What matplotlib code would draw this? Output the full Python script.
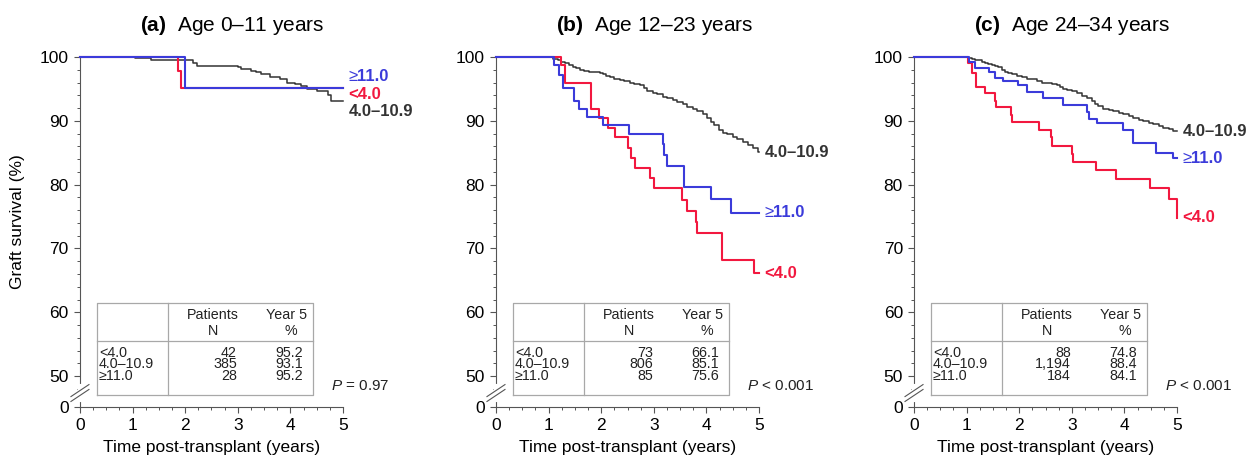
import numpy as np
import matplotlib.pyplot as plt
from matplotlib.ticker import FixedLocator, MultipleLocator

plt.rcParams["font.family"] = ["Liberation Sans", "DejaVu Sans"]
plt.rcParams["mathtext.fontset"] = "custom"
plt.rcParams["mathtext.rm"] = "Liberation Sans"
plt.rcParams["mathtext.it"] = "Liberation Sans:italic"
plt.rcParams["mathtext.bf"] = "Liberation Sans:bold"

groups = ["<4.0", "4.0–10.9", "≥11.0"]
titles = ["(a)", "(b)", "(c)"]
age_bands = ["Age 0–11 years", "Age 12–23 years", "Age 24–34 years"]
p_values = ["= 0.97", "< 0.001", "< 0.001"]

# panel (a), age 0-11
a_lo_t = [0, 1.87, 1.93, 5.0]
a_lo_s = [100, 97.8, 95.2, 95.2]
a_mid_t = [0, 1.05, 1.36, 2.15, 2.22, 3.01, 3.07, 3.26, 3.35, 3.45, 3.61, 3.80,
           3.93, 4.09, 4.21, 4.31, 4.50, 4.72, 4.77, 5.0]
a_mid_s = [100, 99.8, 99.5, 99.0, 98.6, 98.4, 98.1, 97.8, 97.6, 97.3, 96.9, 96.6,
           96.0, 95.8, 95.5, 95.0, 94.6, 94.0, 93.1, 93.1]
a_hi_t = [0, 2.0, 5.0]
a_hi_s = [100, 95.2, 95.2]
a_n = [42, 385, 28]
a_year5 = [95.2, 93.1, 95.2]

# panel (b), age 12-23
b_lo_t = [0, 1.24, 1.31, 1.81, 1.95, 2.12, 2.27, 2.50, 2.57, 2.64, 2.93, 3.00,
          3.53, 3.63, 3.80, 3.83, 4.29, 4.91, 5.0]
b_lo_s = [100, 98.8, 95.9, 91.8, 90.5, 88.9, 87.4, 85.8, 84.2, 82.6, 81.1, 79.4,
          77.6, 75.8, 74.2, 72.4, 68.2, 66.1, 66.1]
b_mid_t = [0, 1.08, 1.17, 1.24, 1.31, 1.39, 1.46, 1.52, 1.60, 1.68, 1.77, 1.87,
           1.97, 2.03, 2.09, 2.16, 2.25, 2.35, 2.44, 2.54, 2.63, 2.73, 2.81,
           2.88, 2.98, 3.07, 3.17, 3.26, 3.36, 3.45, 3.55, 3.64, 3.74, 3.83,
           3.93, 4.01, 4.09, 4.15, 4.23, 4.31, 4.40, 4.50, 4.59, 4.69, 4.79,
           4.88, 4.98, 5.0]
b_mid_s = [100, 99.7, 99.5, 99.2, 99.1, 98.8, 98.5, 98.3, 98.0, 97.8, 97.7, 97.6,
           97.5, 97.3, 97.0, 96.8, 96.6, 96.4, 96.2, 96.0, 95.7, 95.6, 95.2,
           94.6, 94.4, 94.2, 93.8, 93.6, 93.3, 93.0, 92.6, 92.1, 91.8, 91.5,
           91.1, 90.5, 89.8, 89.3, 88.5, 88.1, 87.9, 87.4, 87.1, 86.7, 86.2,
           85.7, 85.1, 85.1]
b_hi_t = [0, 1.11, 1.20, 1.27, 1.48, 1.58, 1.73, 2.03, 2.53, 3.17, 3.19, 3.26,
          3.58, 4.08, 4.47, 5.0]
b_hi_s = [100, 98.8, 97.2, 95.2, 93.1, 91.8, 90.6, 89.3, 88.0, 86.4, 84.7, 83.0,
          79.7, 77.7, 75.6, 75.6]
b_n = [73, 806, 85]
b_year5 = [66.1, 85.1, 75.6]

# panel (c), age 24-34
c_lo_t = [0, 1.03, 1.11, 1.18, 1.34, 1.53, 1.55, 1.84, 1.87, 2.38, 2.60, 2.63,
          3.01, 3.03, 3.45, 3.84, 4.49, 4.85, 4.99, 5.0]
c_lo_s = [100, 99.0, 97.5, 95.3, 94.3, 93.1, 92.1, 90.9, 89.8, 88.6, 87.4, 86.1,
          84.8, 83.6, 82.3, 80.9, 79.4, 77.8, 74.8, 74.8]
c_mid_t = [0, 1.03, 1.10, 1.16, 1.22, 1.29, 1.35, 1.41, 1.48, 1.54, 1.60, 1.67,
           1.73, 1.79, 1.86, 1.95, 2.05, 2.14, 2.24, 2.33, 2.43, 2.52, 2.62,
           2.72, 2.78, 2.84, 2.90, 3.00, 3.09, 3.19, 3.28, 3.38, 3.44, 3.50,
           3.60, 3.70, 3.79, 3.89, 3.98, 4.08, 4.17, 4.27, 4.36, 4.46, 4.55,
           4.65, 4.74, 4.84, 4.93, 5.0]
c_mid_s = [100, 99.9, 99.7, 99.6, 99.5, 99.2, 99.1, 98.9, 98.7, 98.6, 98.4, 98.0,
           97.7, 97.5, 97.3, 97.0, 96.9, 96.6, 96.5, 96.2, 96.0, 95.9, 95.8,
           95.6, 95.3, 95.0, 94.9, 94.6, 94.3, 93.9, 93.6, 93.1, 92.7, 92.3,
           91.9, 91.7, 91.5, 91.3, 91.0, 90.8, 90.5, 90.2, 90.0, 89.7, 89.5,
           89.2, 88.9, 88.7, 88.4, 88.4]
c_hi_t = [0, 1.05, 1.16, 1.43, 1.54, 1.70, 1.97, 2.14, 2.46, 2.84, 3.28, 3.33,
          3.47, 3.97, 4.16, 4.60, 4.93, 5.0]
c_hi_s = [100, 99.2, 98.3, 97.7, 96.7, 96.2, 95.6, 94.5, 93.6, 92.5, 91.4, 90.3,
          89.7, 88.5, 86.6, 84.9, 84.1, 84.1]
c_n = [88, 1194, 184]
c_year5 = [74.8, 88.4, 84.1]

# where the end labels of panel (a) sit (moved apart so they don't overlap)
a_label_y = [94.1, 91.4, 96.9]

curves = [
    [(a_lo_t, a_lo_s), (a_mid_t, a_mid_s), (a_hi_t, a_hi_s)],
    [(b_lo_t, b_lo_s), (b_mid_t, b_mid_s), (b_hi_t, b_hi_s)],
    [(c_lo_t, c_lo_s), (c_mid_t, c_mid_s), (c_hi_t, c_hi_s)],
]
counts = [a_n, b_n, c_n]
year5 = [a_year5, b_year5, c_year5]
label_ys = [a_label_y, b_year5, c_year5]

red = "#F2183F"
dark = "#333333"
blue = "#3B3BDA"
line_colors = [red, dark, blue]
line_widths = [1.5, 1.1, 1.5]
draw_order = [1, 0, 2]
axis_grey = "#555555"
box_grey = "#A8A8A8"

y_base = 45.16  # where "0" sits below the axis break

fig = plt.figure(figsize=(12.55, 4.62), dpi=100)
lefts = [0.0637, 0.3952, 0.7283]

for k in range(3):
    ax = fig.add_axes([lefts[k], 0.119, 0.2096, 0.7576])

    for g in draw_order:
        t, s = curves[k][g]
        ax.step(t, s, where="post", color=line_colors[g], lw=line_widths[g],
                clip_on=False, zorder=3)
        if groups[g].startswith("≥"):
            sym = ax.text(5.1, label_ys[k][g], "≥", color=line_colors[g],
                          fontsize=12, va="center", ha="left", clip_on=False)
            ax.annotate(groups[g][1:], xy=(1, 0), xycoords=sym, va="bottom",
                        ha="left", color=line_colors[g], fontsize=12,
                        weight="bold", annotation_clip=False)
        else:
            ax.text(5.1, label_ys[k][g], groups[g], color=line_colors[g],
                    fontsize=12, weight="bold", va="center", ha="left",
                    clip_on=False)

    ax.set_xlim(0, 5)
    ax.set_ylim(y_base, 100)
    ax.set_xticks(range(6))
    ax.xaxis.set_minor_locator(MultipleLocator(0.25))
    ax.set_yticks([y_base, 50, 60, 70, 80, 90, 100],
                  ["0", "50", "60", "70", "80", "90", "100"])
    ax.yaxis.set_minor_locator(FixedLocator(np.arange(48, 100, 2)))
    ax.tick_params(which="major", direction="out", length=4, width=0.8,
                   color=axis_grey, labelsize=12.5, pad=4)
    ax.tick_params(which="minor", direction="out", length=2, width=0.7,
                   color=axis_grey)
    for side in ["top", "right"]:
        ax.spines[side].set_visible(False)
    for side in ["left", "bottom"]:
        ax.spines[side].set_color(axis_grey)
        ax.spines[side].set_linewidth(0.8)

    ax.set_xlabel("Time post-transplant (years)", fontsize=12.5, labelpad=5)
    if k == 0:
        ax.set_ylabel("Graft survival (%)", fontsize=12.5)
        ax.yaxis.set_label_coords(-0.21, 0.53)

    # axis break marks
    dx, dy = 9 / 263, 6 / 350
    ax.plot([0, 0], [0.020, 0.060], transform=ax.transAxes, color="white",
            lw=3, clip_on=False, zorder=5)
    for yc in [0.033, 0.047]:
        ax.plot([-dx, dx], [yc - dy, yc + dy], transform=ax.transAxes,
                color=axis_grey, lw=0.8, clip_on=False, zorder=6)

    # title
    ax.text(0.228, 1.074, r"$\mathbf{" + titles[k] + "}$  " + age_bands[k],
            transform=ax.transAxes, fontsize=15, va="baseline", ha="left")

    # summary table
    x0, x1, xd = 0.065, 0.886, 0.335
    y0, y1, yd = 0.034, 0.297, 0.189
    box = dict(transform=ax.transAxes, color=box_grey, lw=0.9, clip_on=False, zorder=4)
    ax.plot([x0, x1, x1, x0, x0], [y0, y0, y1, y1, y0], **box)
    ax.plot([xd, xd], [y0, y1], **box)
    ax.plot([x0, x1], [yd, yd], **box)
    tb = dict(transform=ax.transAxes, fontsize=10.3, va="baseline", color="#222222")
    ax.text(0.506, 0.251, "Patients", ha="center", **tb)
    ax.text(0.506, 0.206, "N", ha="center", **tb)
    ax.text(0.785, 0.251, "Year 5", ha="center", **tb)
    ax.text(0.800, 0.206, "%", ha="center", **tb)
    for g, yy in enumerate([0.144, 0.111, 0.078]):
        ax.text(0.072, yy, groups[g], ha="left", **tb)
        ax.text(0.597, yy, f"{counts[k][g]:,}", ha="right", **tb)
        ax.text(0.848, yy, f"{year5[k][g]:.1f}", ha="right", **tb)

    ax.text(0.955, 0.049, r"$P$ " + p_values[k], transform=ax.transAxes,
            fontsize=11, va="baseline", ha="left", color="#222222")

fig.savefig("out.png", dpi=100, facecolor="white")
